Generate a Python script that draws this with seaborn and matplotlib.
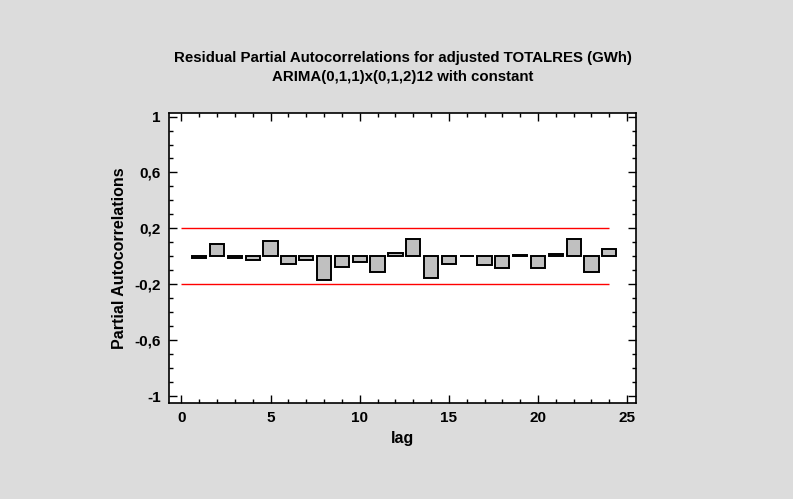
import numpy as np
import pandas as pd
import matplotlib
matplotlib.use("Agg")
import matplotlib.pyplot as plt
import seaborn as sns
from matplotlib.ticker import MultipleLocator, FuncFormatter

lags = list(range(1, 25))
pacf = [-0.01, 0.09, -0.01, -0.027, 0.11, -0.053, -0.03, -0.173, -0.079, -0.043,
        -0.11, 0.026, 0.125, -0.154, -0.053, 0.002, -0.062, -0.082, 0.01, -0.082,
        0.019, 0.125, -0.115, 0.055]
limit = 0.2
title = "Residual Partial Autocorrelations for adjusted TOTALRES (GWh)\nARIMA(0,1,1)x(0,1,2)12 with constant"

sns.set_theme(style="white")
plt.rcParams["font.family"] = ["Liberation Sans", "DejaVu Sans"]
plt.rcParams["font.weight"] = "bold"
plt.rcParams["text.color"] = "black"
plt.rcParams["axes.labelcolor"] = "black"
plt.rcParams["xtick.color"] = "black"
plt.rcParams["ytick.color"] = "black"

df = pd.DataFrame({"lag": lags, "pacf": pacf})

fig = plt.figure(figsize=(7.93, 4.99), dpi=100, facecolor="#dcdcdc")
ax = fig.add_axes([0.2131, 0.1924, 0.589, 0.581])
ax.set_facecolor("white")

sns.barplot(data=df, x="lag", y="pacf", native_scale=True, width=0.8,
            color="#c0c0c0", saturation=1, edgecolor="black", linewidth=1.4, ax=ax)

# confidence limits
ax.hlines([limit, -limit], 0, 24, colors="red", linewidth=1)

ax.set_xlim(-0.7, 25.5)
ax.set_ylim(-1.05, 1.025)
ax.xaxis.set_major_locator(MultipleLocator(5))
ax.xaxis.set_minor_locator(MultipleLocator(1))
ax.yaxis.set_minor_locator(MultipleLocator(0.1))
ax.set_yticks([-1, -0.6, -0.2, 0.2, 0.6, 1])
ax.yaxis.set_major_formatter(FuncFormatter(lambda v, p: f"{v:g}".replace(".", ",")))

ax.tick_params(which="both", direction="in", top=True, right=True, bottom=True, left=True,
               color="black", labelcolor="black", labelsize=11)
ax.tick_params(which="major", length=6, width=1, pad=6)
ax.tick_params(which="minor", length=3, width=1)
for lab in ax.get_xticklabels() + ax.get_yticklabels():
    lab.set_fontweight("bold")
for s in ax.spines.values():
    s.set_color("black")
    s.set_linewidth(1.2)

ax.set_xlabel("lag", fontsize=11.5, fontweight="bold", labelpad=4)
ax.set_ylabel("Partial Autocorrelations", fontsize=11.5, fontweight="bold", labelpad=5)
fig.suptitle(title, x=0.508, y=0.897, fontsize=10.8, fontweight="bold", linespacing=1.45,
             color="black")

fig.savefig("out.png", dpi=100, facecolor=fig.get_facecolor())
